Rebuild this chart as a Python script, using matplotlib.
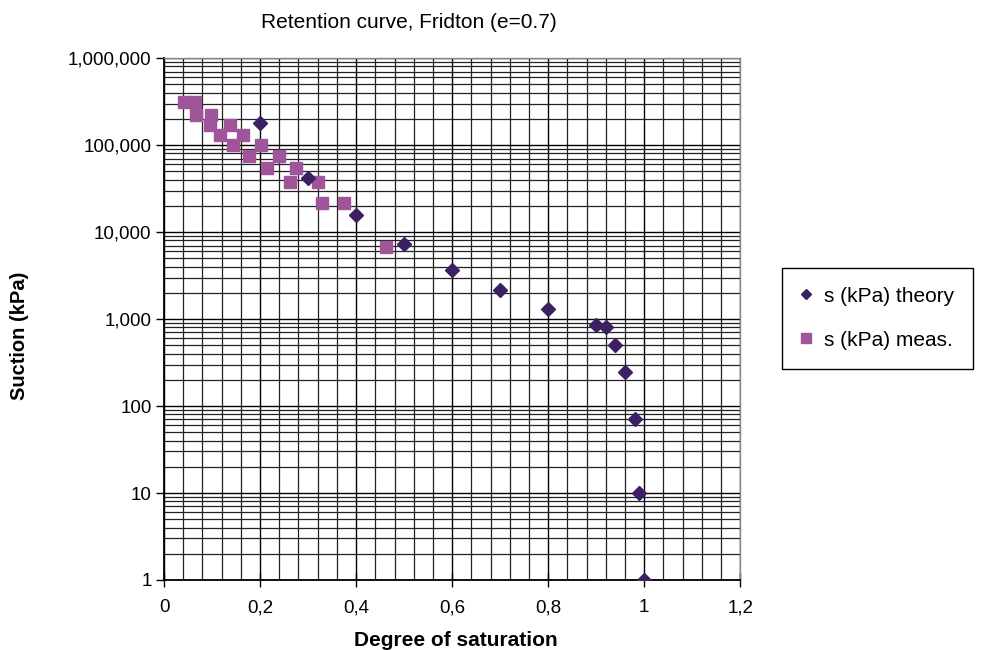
import matplotlib
matplotlib.use('Agg')
import matplotlib.pyplot as plt
import numpy as np
from matplotlib.ticker import FixedLocator, FuncFormatter, LogLocator, MultipleLocator

plt.rcParams['font.family'] = ['Liberation Sans', 'DejaVu Sans']

# theory curve points
sat_theory = [0.2, 0.3, 0.4, 0.5, 0.6, 0.7, 0.8, 0.9, 0.92, 0.94, 0.96, 0.98, 0.99, 1.0]
suction_theory = [178000, 42000, 15700, 7200, 3650, 2150, 1300, 850, 800, 500, 245, 71, 10, 1]

# measured points
sat_meas = [0.041, 0.064, 0.066, 0.097, 0.095, 0.137, 0.116, 0.164, 0.143, 0.201,
            0.176, 0.239, 0.214, 0.274, 0.262, 0.320, 0.329, 0.375, 0.462]
suction_meas = [312000, 312000, 221000, 221000, 170000, 170000, 130000, 130000, 100000, 100000,
                74800, 74800, 54400, 54400, 37600, 37600, 21500, 21500, 6700]

x_ticks = [0, 0.2, 0.4, 0.6, 0.8, 1.0, 1.2]
y_ticks = [1, 10, 100, 1000, 10000, 100000, 1000000]

fig = plt.figure(figsize=(9.97, 6.5), dpi=100)
ax = fig.add_axes([0.1645, 0.1077, 0.578, 0.803])

ax.plot(sat_theory, suction_theory, linestyle='none', marker='D', ms=7,
        color='#3b2063', label='s (kPa) theory', zorder=4)
ax.plot(sat_meas, suction_meas, linestyle='none', marker='s', ms=9,
        color='#a0559b', label='s (kPa) meas.', zorder=3)

ax.set_yscale('log')
ax.set_xlim(0, 1.2)
ax.set_ylim(1, 1e6)

ax.xaxis.set_major_locator(FixedLocator(x_ticks))
ax.xaxis.set_minor_locator(MultipleLocator(0.04))
ax.yaxis.set_major_locator(FixedLocator(y_ticks))
ax.yaxis.set_minor_locator(LogLocator(base=10, subs=np.arange(2, 10), numticks=20))

ax.xaxis.set_major_formatter(FuncFormatter(lambda v, p: f'{v:g}'.replace('.', ',')))
ax.yaxis.set_major_formatter(FuncFormatter(lambda v, p: f'{int(round(v)):,}'))
ax.yaxis.set_minor_formatter(FuncFormatter(lambda v, p: ''))

ax.grid(True, which='major', color='black', linewidth=1.0)
ax.grid(True, which='minor', color='#222222', linewidth=0.9)
ax.set_axisbelow(True)

ax.tick_params(axis='both', which='major', direction='out', length=6, width=1,
               labelsize=13.5, pad=3)
ax.tick_params(axis='x', which='major', direction='inout', length=10, pad=9)
ax.tick_params(axis='both', which='minor', length=0)

for side in ['left', 'bottom']:
    ax.spines[side].set_linewidth(1.3)
for side in ['top', 'right']:
    ax.spines[side].set_color('#888888')
    ax.spines[side].set_linewidth(1.0)

fig.text(409 / 997, 1 - 22 / 650, 'Retention curve, Fridton (e=0.7)', fontsize=15,
         ha='center', va='center')
fig.text(456 / 997, 1 - 640 / 650, 'Degree of saturation', fontsize=15,
         fontweight='bold', ha='center', va='center')
fig.text(20 / 997, 1 - 336 / 650, 'Suction (kPa)', fontsize=14.5, fontweight='bold',
         rotation=90, ha='center', va='center')

leg = ax.legend(loc='upper left', bbox_to_anchor=(782 / 997, 1 - 268 / 650),
                bbox_transform=fig.transFigure, fontsize=15,
                frameon=True, fancybox=False, edgecolor='black', framealpha=1,
                borderpad=0.9, labelspacing=1.2, handlelength=0.5, handletextpad=0.6,
                markerscale=0.8, borderaxespad=0)
leg.get_frame().set_linewidth(1.0)

fig.savefig('out.png', dpi=100)
